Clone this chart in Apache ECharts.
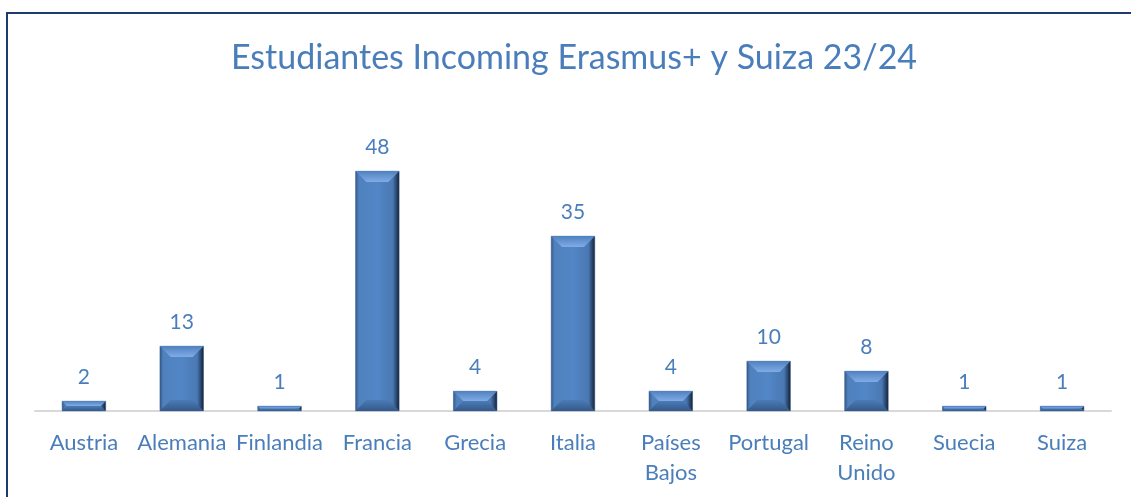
<!DOCTYPE html>
<html>
<head>
<meta charset="utf-8">
<script src="https://cdn.jsdelivr.net/npm/echarts@6/dist/echarts.min.js"></script>
<style>
	html, body { margin: 0; padding: 0; background: #fff; }
	#main { width: 1131px; height: 497px; }
</style>
</head>
<body>
<div id="main"></div>
<script>
var titleText = 'Estudiantes Incoming Erasmus+ y Suiza 23/24';
var paises = ['Austria', 'Alemania', 'Finlandia', 'Francia', 'Grecia', 'Italia', 'Países Bajos', 'Portugal', 'Reino Unido', 'Suecia', 'Suiza'];
var estudiantes = [2, 13, 1, 48, 4, 35, 4, 10, 8, 1, 1];

var textColor = '#4a7ebb';

var chart = echarts.init(document.getElementById('main'));

var barColor = new echarts.graphic.LinearGradient(0, 0, 1, 0, [
	{ offset: 0, color: '#34598a' },
	{ offset: 0.08, color: '#4f81bd' },
	{ offset: 0.5, color: '#5286c6' },
	{ offset: 0.85, color: '#4a78b2' },
	{ offset: 0.93, color: '#2c4a72' },
	{ offset: 1, color: '#121f33' }
]);

// bevel top/bottom drawn on top of the bars
function bevel(params, api) {
	var top = api.coord([api.value(0), api.value(1)]);
	var base = api.coord([api.value(0), 0]);
	var w = api.size([1, 0])[0] * 0.45;
	var x0 = top[0] - w / 2, x1 = top[0] + w / 2;
	var y0 = top[1], y1 = base[1];
	var b = Math.min(11, (y1 - y0) / 2);
	return {
		type: 'group',
		children: [{
			type: 'polygon',
			shape: { points: [[x0, y0], [x1, y0], [x1 - b, y0 + b], [x0 + b, y0 + b]] },
			style: {
				fill: new echarts.graphic.LinearGradient(0, 0, 0, 1, [
					{ offset: 0, color: '#4f80bf' },
					{ offset: 1, color: '#80ace6' }
				])
			}
		}, {
			type: 'polygon',
			shape: { points: [[x0, y1], [x1, y1], [x1 - b, y1 - b], [x0 + b, y1 - b]] },
			style: {
				fill: new echarts.graphic.LinearGradient(0, 0, 0, 1, [
					{ offset: 0, color: '#4b7bb6' },
					{ offset: 1, color: '#34598a' }
				])
			}
		}]
	};
}

chart.setOption({
	backgroundColor: '#fff',
	title: {
		text: titleText,
		left: 226,
		top: 36,
		textStyle: {
			fontFamily: 'Lato',
			fontWeight: 'normal',
			fontSize: 34,
			color: textColor
		}
	},
	graphic: [{
		type: 'rect',
		shape: { x: 7, y: 13, width: 1140, height: 500 },
		style: { fill: 'none', stroke: '#1f3a70', lineWidth: 2 },
		silent: true
	}],
	grid: {
		left: 35,
		right: 20,
		top: 111,
		bottom: 86
	},
	xAxis: {
		type: 'category',
		data: paises,
		axisLine: { lineStyle: { color: '#d9d9d9', width: 2 } },
		axisTick: { show: false },
		axisLabel: {
			interval: 0,
			margin: 17,
			color: textColor,
			fontFamily: 'Lato',
			fontSize: 22,
			lineHeight: 30,
			formatter: function (v) {
				return v.indexOf(' ') > 0 ? v.replace(' ', '\n') : v;
			}
		}
	},
	yAxis: {
		type: 'value',
		min: 0,
		max: 60,
		show: false,
		splitLine: { show: false }
	},
	series: [{
		type: 'bar',
		data: estudiantes,
		barWidth: '45%',
		itemStyle: {
			color: barColor,
			borderColor: '#2f5180',
			borderWidth: 0.5
		},
		label: {
			show: true,
			position: 'top',
			distance: 13,
			color: textColor,
			fontFamily: 'Lato',
			fontSize: 21
		}
	}, {
		type: 'custom',
		renderItem: bevel,
		silent: true,
		z: 3,
		data: estudiantes.map(function (v, i) { return [i, v]; })
	}]
});
</script>
</body>
</html>
